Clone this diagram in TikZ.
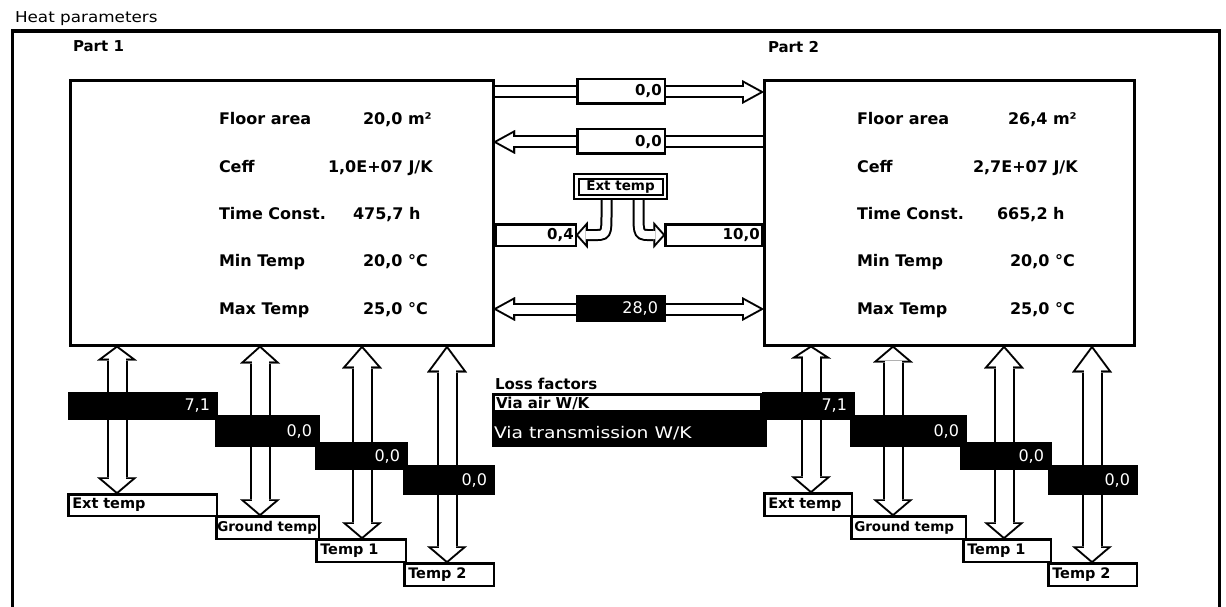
\documentclass[tikz,border=0pt]{standalone}
\usepackage{fontspec}
\setmainfont{DejaVu Sans}
\usepackage{graphicx}
\usetikzlibrary{arrows.meta,calc}
\pgfdeclarelayer{bg}
\pgfsetlayers{bg,main}
\newcommand\fBox{\fontsize{16}{19}\selectfont\bfseries}
\newcommand\fPart{\fontsize{15}{18}\selectfont\bfseries}
\newcommand\fLbl{\fontsize{14.5}{17}\selectfont\bfseries}
\newcommand\fLblS{\fontsize{13.5}{16}\selectfont\bfseries}
\newcommand\fMid{\fontsize{15}{18}\selectfont\bfseries}
\newcommand\fNum{\fontsize{16}{19}\selectfont}
\newcommand\hollow[3]{\draw[#1] #3; \draw[#2] #3;}
\begin{document}
\begin{tikzpicture}[x=1pt,y=-1pt,
  every node/.style={outer sep=0pt},
  mbox/.style={draw, line width=3pt, inner sep=0pt},
  bt/.style={anchor=base west, font=\fBox, inner sep=0pt},
  vbox/.style={draw, line width=2.5pt, fill=white, inner xsep=3pt, inner ysep=0pt, align=right, font=\fMid},
  bar/.style={fill=black, inner xsep=8pt, inner ysep=0pt, align=right, text=white, font=\fNum},
  lbl/.style={draw, line width=2.5pt, fill=white, inner xsep=4pt, inner ysep=0pt, align=left, font=\fLbl},
  vo/.style={line width=21pt, black, arrows={{Triangle[length=#1,width=40pt,line width=0.01pt]}-{Triangle[length=17pt,width=40pt,line width=0.01pt]}}},
  vi/.style n args={3}{line width=17pt, white, arrows={{Triangle[length=#1,width=#2,line width=0.01pt]}-{Triangle[length=12.4pt,width=29.1pt,line width=0.01pt]}}, shorten <=#3, shorten >=2.62pt},
  ho/.style={line width=13pt, black, >={Triangle[length=22pt,width=24pt,line width=0.01pt]}},
  hi/.style={line width=9pt, white, >={Triangle[length=15.8pt,width=17.3pt,line width=0.01pt]}},
  co/.style={line width=12pt, black, ->, >={Triangle[length=12pt,width=27pt,line width=0.01pt]}},
  ci/.style={line width=8pt, white, ->, >={Triangle[length=7.3pt,width=16.5pt,line width=0.01pt]}, shorten >=2.67pt}
]
\useasboundingbox (0,0) rectangle (1226,607);

% title and frame
\node[anchor=base west, inner sep=0pt] (title) at (15,23) {\scalebox{1.12}[1]{\fontsize{15}{18}\selectfont Heat parameters}};
\draw[line width=3.5pt] (12.5,607) -- (12.5,31) -- (1219.5,31) -- (1219.5,607);
\node[anchor=base west, font=\fPart, inner sep=0pt] (p1) at (73,52) {Part 1};
\node[anchor=base west, font=\fPart, inner sep=0pt] (p2) at (768,53) {Part 2};

% main boxes
\node[mbox, minimum width=422.5, minimum height=264.7] (L) at (281.75,213.15) {};
\node[mbox, minimum width=370, minimum height=264.7] (R) at (949,213.15) {};

% left box texts
\node[bt] (l1) at (219,125) {Floor area};
\node[bt] (l1v) at (363,125) {20,0 m²};
\node[bt] (l2) at (219,172) {Ceff};
\node[bt] (l2v) at (328,172) {1,0E+07 J/K};
\node[bt] (l3) at (219,219) {Time Const.};
\node[bt] (l3v) at (353,219) {475,7 h};
\node[bt] (l4) at (219,266) {Min Temp};
\node[bt] (l4v) at (363,266) {20,0 °C};
\node[bt] (l5) at (219,314) {Max Temp};
\node[bt] (l5v) at (363,314) {25,0 °C};
% right box texts
\node[bt] (r1) at (857,125) {Floor area};
\node[bt] (r1v) at (1008,125) {26,4 m²};
\node[bt] (r2) at (857,172) {Ceff};
\node[bt] (r2v) at (973,172) {2,7E+07 J/K};
\node[bt] (r3) at (857,219) {Time Const.};
\node[bt] (r3v) at (997,219) {665,2 h};
\node[bt] (r4) at (857,266) {Min Temp};
\node[bt] (r4v) at (1010,266) {20,0 °C};
\node[bt] (r5) at (857,314) {Max Temp};
\node[bt] (r5v) at (1010,314) {25,0 °C};

% middle boxes
\node[vbox, text width=81.5, minimum height=24.5] (m1) at (621,91.5) {0,0};
\node[vbox, text width=81.5, minimum height=24.5] (m2) at (621,141.5) {0,0};
\node[draw, line width=2pt, double=white, double distance=2.5pt, fill=white, minimum width=88.5, minimum height=20.5, inner sep=0pt, font=\fLblS] (ext) at (620.5,186.5) {Ext temp};
\node[vbox, text width=76.5, minimum height=21.5, inner xsep=2pt] (vl) at (535.5,235) {0,4};
\node[vbox, text width=92.5, minimum height=21.5, inner xsep=2pt] (vr) at (713.5,235) {10,0};
\node[bar, text width=74, minimum height=27] (m4) at (621,308.5) {28,0};

% legend
\node[anchor=base west, font=\fPart, inner sep=0pt] (lf) at (495,389) {Loss factors};
\node[fill=black, minimum width=275, minimum height=39, inner sep=0pt] (vt) at (629.5,427.5) {};
\node[draw, line width=2.5pt, fill=white, minimum width=267.5, minimum height=16.5, inner sep=0pt] (va) at (627,402.5) {};
\node[anchor=base west, font=\fPart, inner sep=0pt] (vat) at (496,408) {Via air W/K};
\node[anchor=base west, text=white, inner sep=0pt] (vtt) at (494,438) {\scalebox{1.17}[1]{\fontsize{16}{19}\selectfont Via transmission W/K}};

% left bars
\node[bar, text width=134, minimum height=28] (b1) at (143,406) {7,1};
\node[bar, text width=89, minimum height=32] (b2) at (267.5,431) {0,0};
\node[bar, text width=77, minimum height=28] (b3) at (361.5,456) {0,0};
\node[bar, text width=76, minimum height=30] (b4) at (449,480) {0,0};
% right bars
\node[bar, text width=77, minimum height=28] (c1) at (808.5,406) {7,1};
\node[bar, text width=101, minimum height=32] (c2) at (908.5,431) {0,0};
\node[bar, text width=76, minimum height=28] (c3) at (1006,456) {0,0};
\node[bar, text width=74, minimum height=30] (c4) at (1093,480) {0,0};

% left labels
\node[lbl, text width=140.5, minimum height=21.5] (le) at (142.5,505) {Ext temp};
\node[lbl, text width=100.5, minimum height=22.5, inner xsep=1pt, font=\fLblS] (lg) at (267.5,527.5) {Ground temp};
\node[lbl, text width=81.5, minimum height=22.5] (lt1) at (361,550.5) {Temp 1};
\node[lbl, text width=81.5, minimum height=22.5] (lt2) at (449,574.5) {Temp 2};
% right labels
\node[lbl, text width=79.5, minimum height=22.5] (re) at (808,504.5) {Ext temp};
\node[lbl, text width=108.5, minimum height=22.5, inner xsep=3pt, font=\fLblS] (rg) at (908.5,527.5) {Ground temp};
\node[lbl, text width=79.5, minimum height=22.5] (rt1) at (1007,550.5) {Temp 1};
\node[lbl, text width=80.5, minimum height=22.5] (rt2) at (1092.5,574.5) {Temp 2};

% helper coordinates
\coordinate (xa1) at (117,0);
\coordinate (xa2) at (260,0);
\coordinate (xa3) at (362,0);
\coordinate (xa4) at (447,0);
\coordinate (xb1) at (811,0);
\coordinate (xb2) at (893,0);
\coordinate (xb3) at (1004,0);
\coordinate (xb4) at (1092,0);
\coordinate (ya) at (0,92);
\coordinate (yb) at (0,142);
\coordinate (yc) at (0,309);

\begin{pgfonlayer}{bg}
\fill[white] (0,0) rectangle (1226,607);
\hollow{vo=15pt}{vi={10.5pt}{28pt}{2.5pt}}{(L.south -| xa1) -- (le.north -| xa1)}
\hollow{vo=18pt}{vi={13.3pt}{29.6pt}{2.69pt}}{(L.south -| xa2) -- (lg.north -| xa2)}
\hollow{vo=23pt}{vi={17.9pt}{31.2pt}{3.05pt}}{(L.south -| xa3) -- (lt1.north -| xa3)}
\hollow{vo=27pt}{vi={21.6pt}{32.1pt}{3.36pt}}{(L.south -| xa4) -- (lt2.north -| xa4)}
\hollow{vo=13pt}{vi={8.6pt}{26.5pt}{2.39pt}}{(R.south -| xb1) -- (re.north -| xb1)}
\hollow{vo=17pt}{vi={12.4pt}{29.1pt}{2.62pt}}{(R.south -| xb2) -- (rg.north -| xb2)}
\hollow{vo=23pt}{vi={17.9pt}{31.2pt}{3.05pt}}{(R.south -| xb3) -- (rt1.north -| xb3)}
\hollow{vo=27pt}{vi={21.6pt}{32.1pt}{3.36pt}}{(R.south -| xb4) -- (rt2.north -| xb4)}
\hollow{ho,->}{hi,->,shorten >=4.18pt}{(L.east |- ya) -- (R.west |- ya)}
\hollow{ho,->}{hi,->,shorten >=4.18pt}{(R.west |- yb) -- (L.east |- yb)}
\hollow{ho,<->}{hi,<->,shorten <=4.18pt,shorten >=4.18pt}{(L.east |- yc) -- (R.west |- yc)}
\hollow{co}{ci}{($(ext.south)+(-14,0)$) -- ($(ext.south)+(-14,16)$) .. controls ($(ext.south)+(-14,38.5)$) .. ($(ext.south |- vl.east)+(-28,0)$) -- (vl.east)}
\hollow{co}{ci}{($(ext.south)+(18,0)$) -- ($(ext.south)+(18,16)$) .. controls ($(ext.south)+(18,38.5)$) .. ($(ext.south |- vr.west)+(32,0)$) -- (vr.west)}
\end{pgfonlayer}
\end{tikzpicture}
\end{document}
